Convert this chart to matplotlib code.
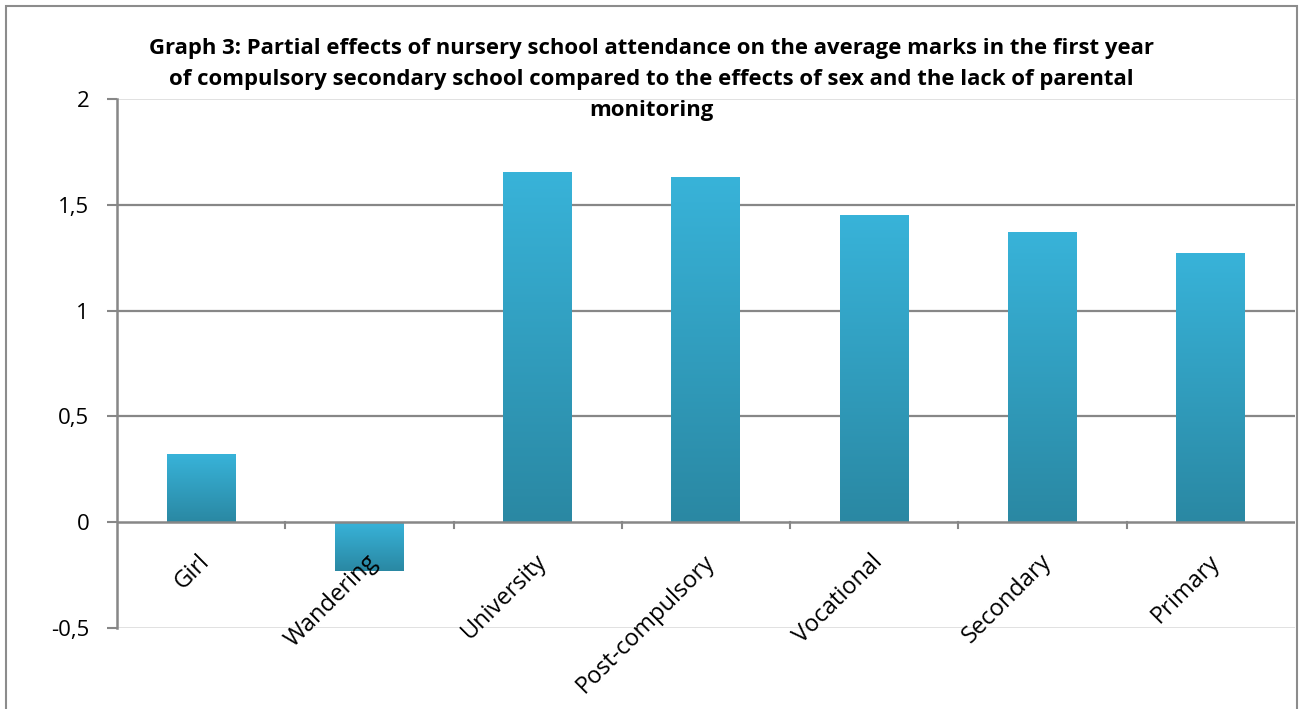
import numpy as np
import matplotlib.pyplot as plt
from matplotlib.patches import Rectangle
from matplotlib.colors import LinearSegmentedColormap

# datos del grafico
categorias = ["Girl", "Wandering", "University", "Post-compulsory",
              "Vocational", "Secondary", "Primary"]
valores = [0.32, -0.23, 1.65, 1.63, 1.45, 1.37, 1.27]
yticks = [-0.5, 0, 0.5, 1, 1.5, 2]
ytick_labels = ["-0,5", "0", "0,5", "1", "1,5", "2"]
titulo = ("Graph 3: Partial effects of nursery school attendance on the average marks in the first year\n"
          "of compulsory secondary school compared to the effects of sex and the lack of parental\n"
          "monitoring")

plt.rcParams['font.family'] = ['Open Sans', 'DejaVu Sans']

fig = plt.figure(figsize=(13.01, 7.09), dpi=100)
ax = fig.add_axes([0.0899, 0.1142, 0.9054, 0.7462])

# borde exterior del grafico
fig.patches.append(Rectangle((6/1301, -0.05), 1291/1301, 1 - 6/709 + 0.05,
                             transform=fig.transFigure, fill=False,
                             edgecolor="#8c8c8c", linewidth=1.5))

x = np.arange(len(categorias))
ancho = 0.41
cmap = LinearSegmentedColormap.from_list("azul", ["#2a88a3", "#38b3d9"])
grad = np.linspace(0, 1, 256).reshape(-1, 1)

barras = ax.bar(x, valores, width=ancho, color="none", zorder=3)
for b, v in zip(barras, valores):
    x0 = b.get_x()
    x1 = x0 + b.get_width()
    if v >= 0:
        ax.imshow(grad, cmap=cmap, aspect="auto", origin="lower",
                  extent=[x0, x1, 0, v], zorder=3)
    else:
        ax.imshow(grad, cmap=cmap, aspect="auto", origin="lower",
                  extent=[x0, x1, v, 0], zorder=3)

ax.set_xlim(-0.5, len(categorias) - 0.5)
ax.set_ylim(-0.5, 2)

# lineas de rejilla
for y in [0.5, 1, 1.5]:
    ax.axhline(y, color="#878787", linewidth=1.6, zorder=1)
for y in [-0.5, 2]:
    ax.axhline(y, color="#dcdcdc", linewidth=1.2, zorder=1)
ax.axhline(0, color="#878787", linewidth=1.8, zorder=4)

for s in ["top", "right", "bottom"]:
    ax.spines[s].set_visible(False)
ax.spines["left"].set_color("#878787")
ax.spines["left"].set_linewidth(1.8)

ax.set_yticks(yticks)
ax.set_yticklabels(ytick_labels, fontsize=16)
ax.tick_params(axis="y", length=7, width=1.5, color="#878787", pad=13)

# marcas del eje x en los limites de categoria
for xb in np.arange(0.5, len(categorias) - 0.5, 1):
    ax.plot([xb, xb], [0, -0.025], color="#878787", linewidth=1.5, zorder=4,
            clip_on=False)
ax.set_xticks([])

for xi, c in zip(x, categorias):
    ax.text(xi - 0.02, -0.13, c, rotation=45, ha="right", va="top",
            rotation_mode="anchor", fontsize=17, zorder=5)

fig.text(0.5004, 0.888, titulo, ha="center", va="center", fontsize=15.9,
         fontweight="bold", linespacing=1.6)

fig.savefig("out.png", dpi=100)
